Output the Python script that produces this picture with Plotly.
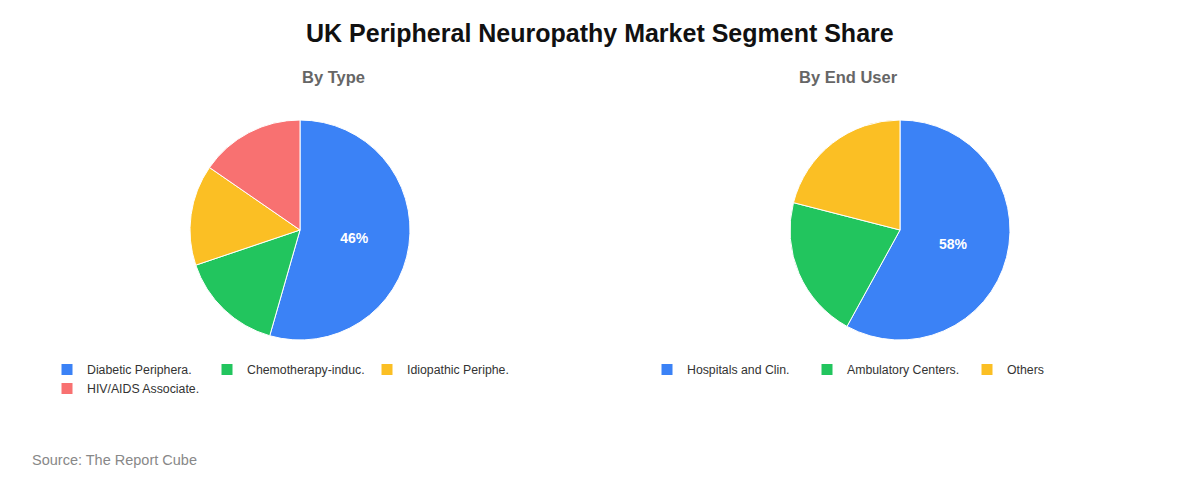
import plotly.graph_objects as go

# By Type segment
type_labels = ['Diabetic Periphera.', 'Chemotherapy-induc.', 'Idiopathic Periphe.', 'HIV/AIDS Associate.']
type_values = [46, 13, 12.5, 13]
type_text = ['46%', '', '', '']

# By End User segment
user_labels = ['Hospitals and Clin.', 'Ambulatory Centers.', 'Others']
user_values = [58, 21, 21]
user_text = ['58%', '', '']

COLORS = ['#3B82F6', '#22C55E', '#FBBF24', '#F87171']
FONT = 'Liberation Sans, Arial, sans-serif'
W, H = 1200, 480
L, R = 60, 0  # left margin so the first legend sits left of the plot area (wraps at half width)


def px(x):
    return (x - L) / (W - L - R)


def py(y):
    return 1 - y / H


fig = go.Figure()

fig.add_trace(go.Pie(
    labels=type_labels, values=type_values, text=type_text,
    textinfo='text', sort=False, direction='clockwise', rotation=0,
    marker=dict(colors=COLORS, line=dict(color='white', width=1)),
    textfont=dict(color='white', size=14, family=FONT, weight='bold'),
    insidetextorientation='horizontal',
    domain=dict(x=[px(190), px(410)], y=[py(340), py(120)]),
    legend='legend', hoverinfo='label+value',
))

fig.add_trace(go.Pie(
    labels=user_labels, values=user_values, text=user_text,
    textinfo='text', sort=False, direction='clockwise', rotation=0,
    marker=dict(colors=COLORS[:3], line=dict(color='white', width=1)),
    textfont=dict(color='white', size=14, family=FONT, weight='bold'),
    insidetextorientation='horizontal',
    domain=dict(x=[px(790), px(1010)], y=[py(340), py(120)]),
    legend='legend2', hoverinfo='label+value',
))

legend_style = dict(
    orientation='h', entrywidth=115, entrywidthmode='pixels',
    font=dict(size=12.3, color='#333', family=FONT),
    xanchor='left', yanchor='top', bgcolor='rgba(0,0,0,0)',
    itemclick=False, itemdoubleclick=False, tracegroupgap=0,
)

fig.update_layout(
    width=W, height=H,
    margin=dict(l=L, r=R, t=0, b=0),
    paper_bgcolor='white', plot_bgcolor='white',
    font=dict(family=FONT),
    legend=dict(x=px(47), y=py(355), **legend_style),
    legend2=dict(x=px(647), y=py(355), **legend_style),
    annotations=[
        dict(text='<b>UK Peripheral Neuropathy Market Segment Share</b>', x=px(600), y=py(33),
             xref='paper', yref='paper', yanchor='middle', showarrow=False,
             font=dict(size=25, color='#111', family=FONT)),
        dict(text='<b>By Type</b>', x=px(300), y=py(77), xref='paper', yref='paper',
             yanchor='middle', showarrow=False, font=dict(size=16.5, color='#666', family=FONT)),
        dict(text='<b>By End User</b>', x=px(900), y=py(77), xref='paper', yref='paper',
             yanchor='middle', showarrow=False, font=dict(size=16.5, color='#666', family=FONT)),
        dict(text='Source: The Report Cube', x=px(30), y=py(460), xref='paper', yref='paper',
             xanchor='left', yanchor='middle', showarrow=False,
             font=dict(size=14.5, color='#888', family=FONT)),
    ],
)

fig.write_html('out.html', config={'displayModeBar': False},
               post_script="document.body.style.margin='0';")
